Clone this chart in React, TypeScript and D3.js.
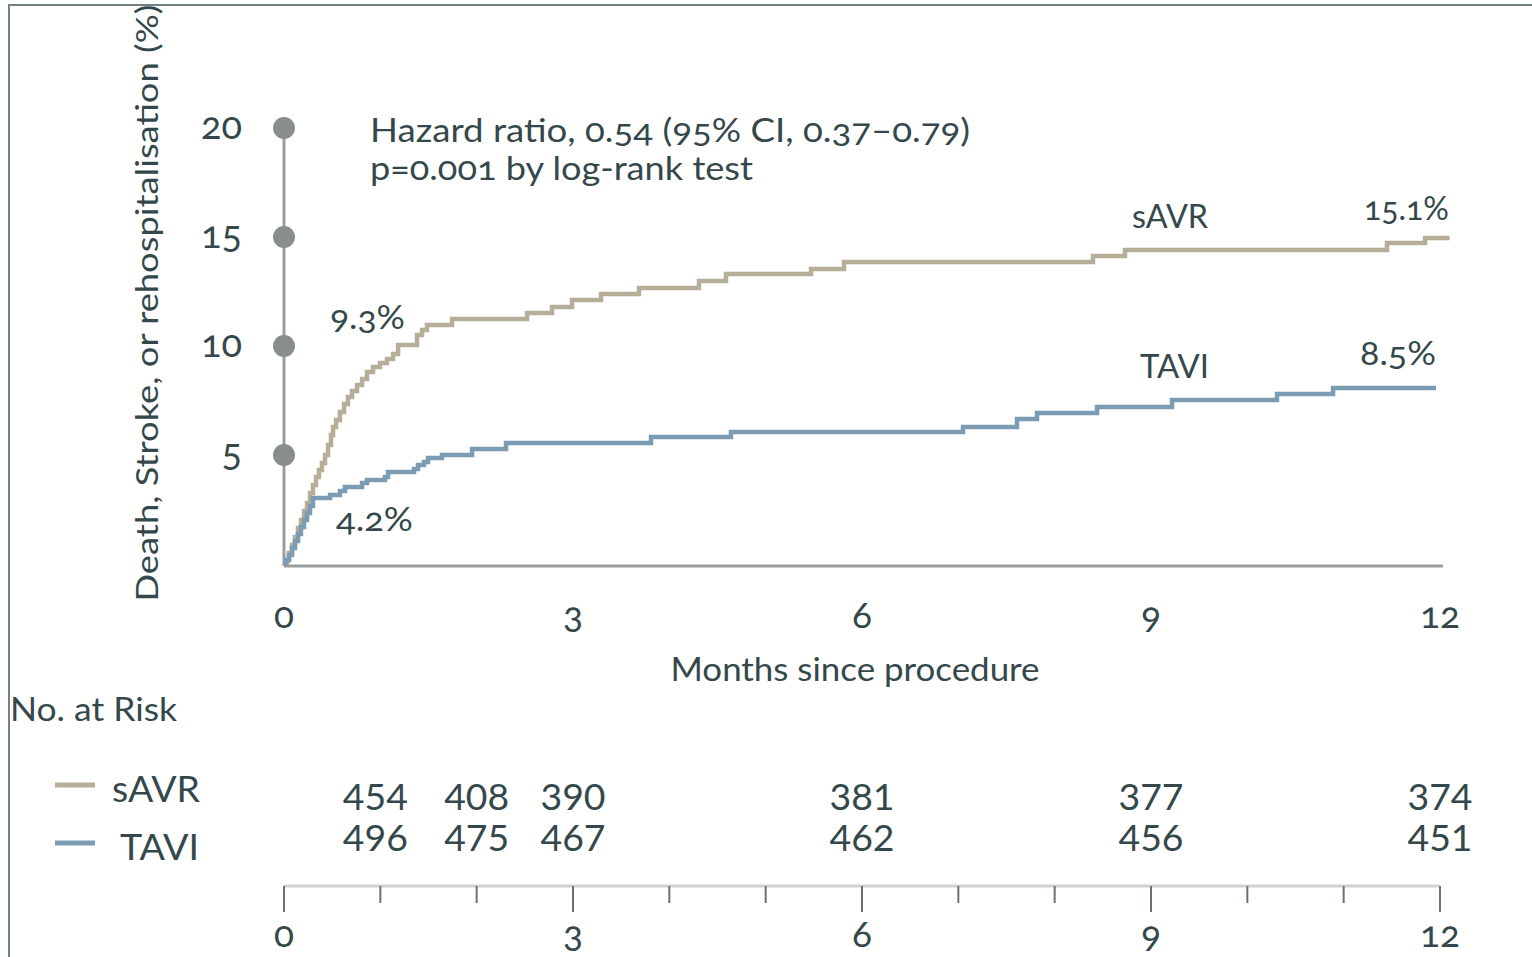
import React from "react";
import * as d3 from "d3";

// ---- data ----
const savrMonths = [0, 0.031, 0.052, 0.083, 0.114, 0.145, 0.176, 0.208, 0.239, 0.27, 0.301, 0.332, 0.363, 0.394, 0.426, 0.457, 0.488, 0.509, 0.54, 0.581, 0.623, 0.664, 0.706, 0.758, 0.81, 0.862, 0.924, 0.997, 1.069, 1.132, 1.184, 1.381, 1.433, 1.484, 1.744, 2.523, 2.782, 2.99, 3.291, 3.685, 4.308, 4.588, 5.471, 5.813, 8.398, 8.73, 11.45, 11.845, 12.1];
const savrPct = [0, 0.18, 0.5, 0.87, 1.24, 1.65, 2.02, 2.43, 2.8, 3.26, 3.62, 3.99, 4.31, 4.63, 5.0, 5.46, 5.92, 6.28, 6.61, 6.97, 7.34, 7.66, 7.94, 8.21, 8.49, 8.81, 9.04, 9.22, 9.4, 9.63, 10.05, 10.5, 10.73, 10.96, 11.24, 11.51, 11.79, 12.11, 12.39, 12.66, 12.98, 13.3, 13.53, 13.85, 14.13, 14.4, 14.72, 14.95, 14.95];

const taviMonths = [0, 0.021, 0.052, 0.083, 0.114, 0.145, 0.176, 0.208, 0.239, 0.27, 0.301, 0.478, 0.581, 0.633, 0.81, 0.862, 1.048, 1.08, 1.35, 1.391, 1.453, 1.495, 1.64, 1.952, 2.305, 3.81, 4.64, 7.049, 7.609, 7.817, 8.44, 9.218, 10.308, 10.89, 11.959];
const taviPct = [0, 0.18, 0.41, 0.73, 1.06, 1.38, 1.7, 2.02, 2.34, 2.66, 3.03, 3.17, 3.35, 3.53, 3.72, 3.85, 3.99, 4.22, 4.36, 4.54, 4.68, 4.86, 5.0, 5.28, 5.55, 5.83, 6.06, 6.28, 6.65, 6.93, 7.2, 7.52, 7.8, 8.07, 8.07];

const yTicks = [5, 10, 15, 20];
const xTicks = [0, 3, 6, 9, 12];
const minorTicks = [1, 2, 4, 5, 7, 8, 10, 11];

const riskMonths = [1, 2, 3, 6, 9, 12];
const riskSavr = [454, 408, 390, 381, 377, 374];
const riskTavi = [496, 475, 467, 462, 456, 451];

const hazardLine1 = "Hazard ratio, 0.54 (95% CI, 0.37\u20130.79)";
const hazardLine2 = "p=0.001 by log-rank test";
const yTitle = "Death, Stroke, or rehospitalisation (%)";
const xTitle = "Months since procedure";

const SAVR_COLOR = "#b6ae98";
const TAVI_COLOR = "#7b9cb3";
const TEXT = "#34484b";
const FONT = "Lato, 'Open Sans', sans-serif";

type TP = {
  x: number;
  y: number;
  size: number;
  anchor?: "start" | "middle" | "end";
  len?: number;
  old?: boolean;
  children: React.ReactNode;
  transform?: string;
};
const T = ({ x, y, size, anchor = "start", len, old = true, children, transform }: TP) => (
  <text
    x={x}
    y={y}
    fontSize={size}
    textAnchor={anchor}
    fill={TEXT}
    fontFamily={FONT}
    textLength={len}
    lengthAdjust={len ? "spacingAndGlyphs" : undefined}
    transform={transform}
    style={{ fontVariantNumeric: old ? "oldstyle-nums" : "lining-nums" }}
  >
    {children}
  </text>
);

export default function App() {
  const W = 1532;
  const H = 957;
  const x = d3.scaleLinear().domain([0, 12]).range([284, 1440]);
  const y = d3.scaleLinear().domain([0, 20]).range([564, 128]);

  const line = d3
    .line<[number, number]>()
    .x((d) => x(d[0]))
    .y((d) => y(d[1]))
    .curve(d3.curveStepAfter);

  const savrData = savrMonths.map((m, i) => [m, savrPct[i]] as [number, number]);
  const taviData = taviMonths.map((m, i) => [m, taviPct[i]] as [number, number]);

  const axisY = 566;
  const bottomAxisY = 886;

  return (
    <svg
      width={W}
      height={H}
      style={{ position: "absolute", left: 0, top: 0, background: "#fff" }}
    >
      {/* frame */}
      <line x1={8} x2={W} y1={5} y2={5} stroke="#708283" strokeWidth={2} />
      <line x1={9} x2={9} y1={5} y2={H} stroke="#708283" strokeWidth={2} />

      {/* y axis */}
      <line x1={x(0)} x2={x(0)} y1={y(20)} y2={axisY} stroke="#9a9d9d" strokeWidth={3} />
      {yTicks.map((t) => (
        <g key={t}>
          <circle cx={x(0)} cy={y(t)} r={11} fill="#888e8e" />
          <T x={242} y={y(t) + 11} size={38} anchor="end">
            {t}
          </T>
        </g>
      ))}
      <T x={0} y={0} size={30} anchor="middle" len={597} transform={`translate(158,303) rotate(-90)`}>
        {yTitle}
      </T>

      {/* x axis */}
      <line x1={x(0)} x2={1443} y1={axisY} y2={axisY} stroke="#9a9d9d" strokeWidth={3} />
      {xTicks.map((t) => (
        <T key={t} x={x(t)} y={628} size={37} anchor="middle">
          {t}
        </T>
      ))}
      <T x={855} y={681} size={33} anchor="middle" len={369}>
        {xTitle}
      </T>

      {/* curves */}
      <path d={line(savrData) || ""} fill="none" stroke={SAVR_COLOR} strokeWidth={4.5} />
      <path d={line(taviData) || ""} fill="none" stroke={TAVI_COLOR} strokeWidth={4.5} />

      {/* annotations */}
      <T x={370} y={142} size={33} len={600}>
        {hazardLine1}
      </T>
      <T x={370} y={180} size={33} len={383}>
        {hazardLine2}
      </T>
      <T x={330} y={329} size={33} len={75}>9.3%</T>
      <T x={336} y={531} size={33} len={77}>4.2%</T>
      <T x={1132} y={228} size={32} len={76}>sAVR</T>
      <T x={1364} y={220} size={33} len={85}>15.1%</T>
      <T x={1140} y={378} size={32} len={69}>TAVI</T>
      <T x={1360} y={365} size={33} len={76}>8.5%</T>

      {/* number at risk */}
      <T x={10} y={721} size={33} len={167}>No. at Risk</T>
      <line x1={55} x2={95} y1={785} y2={785} stroke={SAVR_COLOR} strokeWidth={5} />
      <line x1={55} x2={95} y1={843} y2={843} stroke={TAVI_COLOR} strokeWidth={5} />
      <T x={112} y={802} size={37} len={88}>sAVR</T>
      <T x={120} y={860} size={37} len={79}>TAVI</T>
      {riskMonths.map((m, i) => (
        <g key={m}>
          <T x={x(m) - (m === 1 ? 5 : 0)} y={810} size={36} anchor="middle" len={65} old={false}>
            {riskSavr[i]}
          </T>
          <T x={x(m) - (m === 1 ? 5 : 0)} y={851} size={36} anchor="middle" len={65} old={false}>
            {riskTavi[i]}
          </T>
        </g>
      ))}

      {/* bottom axis */}
      <line x1={x(0)} x2={x(12)} y1={bottomAxisY} y2={bottomAxisY} stroke="#cfd1d1" strokeWidth={3} />
      {xTicks.map((t) => (
        <line key={"M" + t} x1={x(t)} x2={x(t)} y1={bottomAxisY} y2={912} stroke="#6b7273" strokeWidth={2} />
      ))}
      {minorTicks.map((t) => (
        <line key={"m" + t} x1={x(t)} x2={x(t)} y1={bottomAxisY} y2={903} stroke="#6b7273" strokeWidth={2} />
      ))}
      {xTicks.map((t) => (
        <T key={"b" + t} x={x(t)} y={947} size={37} anchor="middle">
          {t}
        </T>
      ))}
    </svg>
  );
}
